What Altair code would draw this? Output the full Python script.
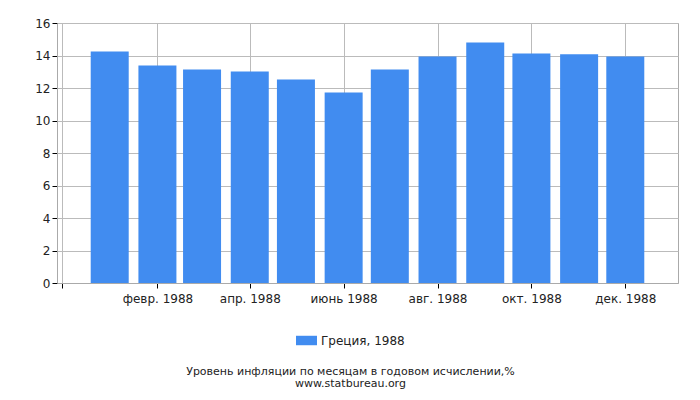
import altair as alt
import pandas as pd

months = ["1988-01-01", "1988-02-01", "1988-03-01", "1988-04-01", "1988-05-01", "1988-06-01",
          "1988-07-01", "1988-08-01", "1988-09-01", "1988-10-01", "1988-11-01", "1988-12-01"]
values = [14.25, 13.39, 13.14, 13.02, 12.53, 11.73, 13.14, 13.94, 14.80, 14.13, 14.07, 13.94]
series_name = "Греция, 1988"
month_abbr = ["янв.", "февр.", "март", "апр.", "май", "июнь",
              "июль", "авг.", "сент.", "окт.", "нояб.", "дек."]
y_ticks = [0, 2, 4, 6, 8, 10, 12, 14, 16]
title_lines = ["Уровень инфляции по месяцам в годовом исчислении,%", "www.statbureau.org"]

df = pd.DataFrame({"date": months, "value": values, "series": series_name})

abbr_js = "[" + ",".join("'" + m + "'" for m in month_abbr) + "]"
label_expr = ("utcyear(datum.value) < 1988 ? '' : " + abbr_js +
              "[utcmonth(datum.value)] + ' ' + utcyear(datum.value)")

tick_vals = [alt.DateTime(year=1987, month=12, date=1, utc=True)] + [
    alt.DateTime(year=1988, month=m, date=1, utc=True) for m in (2, 4, 6, 8, 10, 12)
]

chart = alt.Chart(df).mark_bar(size=38).encode(
    x=alt.X("date:T",
            scale=alt.Scale(type="utc",
                            domain=[alt.DateTime(year=1987, month=12, date=1, utc=True),
                                    alt.DateTime(year=1989, month=1, date=1, utc=True)]),
            axis=alt.Axis(title=None, values=tick_vals, labelExpr=label_expr,
                          grid=True, gridColor="#bbbbbb", domainColor="#aaaaaa",
                          tickColor="#000000", tickSize=5, labelPadding=5,
                          labelFontSize=12, labelColor="#222222", labelFont="DejaVu Sans",
                          labelOverlap=False)),
    y=alt.Y("value:Q", scale=alt.Scale(domain=[0, 16], nice=False),
            axis=alt.Axis(title=None, values=y_ticks, grid=True, gridColor="#bbbbbb",
                          domainColor="#aaaaaa", tickColor="#000000", tickSize=5,
                          labelPadding=2, labelFontSize=12, labelColor="#222222",
                          labelFont="DejaVu Sans")),
    color=alt.Color("series:N", scale=alt.Scale(range=["#418CF0"]),
                    legend=alt.Legend(title=None, orient="none", direction="horizontal",
                                      legendX=239, legendY=307,
                                      symbolType="M-1,-0.45H1V0.45H-1Z", symbolSize=441,
                                      symbolStrokeWidth=0, labelFontSize=12,
                                      labelFont="DejaVu Sans", labelColor="#222222")),
).properties(
    width=621,
    height=260,
    autosize=alt.AutoSizeParams(type="none"),
    padding={"left": 49, "top": 15, "right": 14, "bottom": 109},
    title=alt.TitleParams(text=title_lines, orient="bottom",
                          anchor="middle", fontSize=11, lineHeight=12,
                          fontWeight="normal", font="DejaVu Sans",
                          color="#222222", offset=19, dx=-17),
).configure_view(stroke="#aaaaaa")

chart.save("out.html", embed_options={"renderer": "svg", "actions": False})
